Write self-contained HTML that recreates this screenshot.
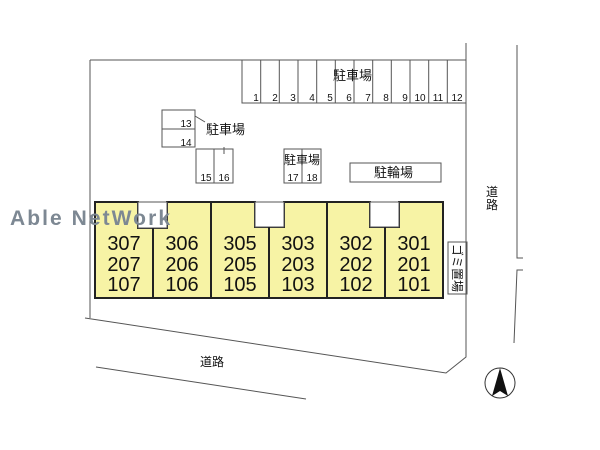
<!DOCTYPE html>
<html><head><meta charset="utf-8"><style>
html,body{margin:0;padding:0;background:#fff;width:600px;height:450px;overflow:hidden}
svg{display:block}
text{font-family:"Liberation Sans","Noto Sans CJK JP",sans-serif;fill:#111}
</style></head><body>
<svg width="600" height="450" viewBox="0 0 600 450" xmlns="http://www.w3.org/2000/svg">
<g fill="none" stroke="#555" stroke-width="1">
<polyline points="466,43 466,357 446,373 85,318"/>
<line x1="90" y1="60" x2="466" y2="60"/>
<line x1="90" y1="60" x2="90" y2="318"/>
<line x1="96" y1="367" x2="306" y2="399"/>
<polyline points="517,45 517,258 523,258"/>
<polyline points="523,270 517,270 514,343"/>
<rect x="242" y="60" width="224" height="43"/>
<line x1="260.7" y1="60" x2="260.7" y2="103"/><line x1="279.3" y1="60" x2="279.3" y2="103"/>
<line x1="298" y1="60" x2="298" y2="103"/><line x1="316.7" y1="60" x2="316.7" y2="103"/>
<line x1="335.3" y1="60" x2="335.3" y2="103"/><line x1="354" y1="60" x2="354" y2="103"/>
<line x1="372.7" y1="60" x2="372.7" y2="103"/><line x1="391.3" y1="60" x2="391.3" y2="103"/>
<line x1="410" y1="60" x2="410" y2="103"/><line x1="428.7" y1="60" x2="428.7" y2="103"/>
<line x1="447.3" y1="60" x2="447.3" y2="103"/>
<rect x="162" y="110" width="33" height="37"/><line x1="162" y1="129" x2="195" y2="129"/>
<line x1="195" y1="116" x2="205" y2="122"/>
<rect x="196" y="149" width="37" height="34"/><line x1="214" y1="149" x2="214" y2="183"/>
<line x1="224" y1="147" x2="224" y2="154"/>
<rect x="284" y="149" width="37" height="34"/><line x1="302" y1="149" x2="302" y2="183"/>
<rect x="350" y="163" width="91" height="19"/>
<rect x="448" y="242" width="19" height="52"/>
</g>
<path d="M95,202 H138 V228 H167 V202 H255 V227 H284 V202 H370 V227 H399 V202 H443 V298 H95 Z" fill="#f7f3a5" stroke="#222" stroke-width="2"/>
<rect x="138" y="202" width="29" height="26" fill="#fff" stroke="#555" stroke-width="1"/>
<rect x="255" y="202" width="29" height="25" fill="#fff" stroke="#555" stroke-width="1"/>
<rect x="370" y="202" width="29" height="25" fill="#fff" stroke="#555" stroke-width="1"/>
<g stroke="#222" stroke-width="2">
<line x1="153" y1="228" x2="153" y2="298"/><line x1="211" y1="202" x2="211" y2="298"/>
<line x1="269" y1="227" x2="269" y2="298"/><line x1="327" y1="202" x2="327" y2="298"/>
<line x1="385" y1="227" x2="385" y2="298"/>
</g>
<g font-size="20" text-anchor="middle">
<text x="124" y="250">307</text><text x="124" y="271">207</text><text x="124" y="291">107</text>
<text x="182" y="250">306</text><text x="182" y="271">206</text><text x="182" y="291">106</text>
<text x="240" y="250">305</text><text x="240" y="271">205</text><text x="240" y="291">105</text>
<text x="298" y="250">303</text><text x="298" y="271">203</text><text x="298" y="291">103</text>
<text x="356" y="250">302</text><text x="356" y="271">202</text><text x="356" y="291">102</text>
<text x="414" y="250">301</text><text x="414" y="271">201</text><text x="414" y="291">101</text>
</g>
<g font-size="10" text-anchor="middle">
<text x="256" y="101">1</text><text x="275" y="101">2</text><text x="293" y="101">3</text><text x="312" y="101">4</text>
<text x="330" y="101">5</text><text x="349" y="101">6</text><text x="368" y="101">7</text><text x="386" y="101">8</text>
<text x="405" y="101">9</text><text x="420" y="101">10</text><text x="438" y="101">11</text><text x="457" y="101">12</text>
<text x="186" y="127">13</text><text x="186" y="146">14</text>
<text x="206" y="181">15</text><text x="224" y="181">16</text>
<text x="293" y="181">17</text><text x="312" y="181">18</text>
</g>
<g font-size="13">
<text x="333" y="80">駐車場</text>
<text x="206" y="134">駐車場</text>
<text x="284" y="164" font-size="12">駐車場</text>
<text x="374" y="177">駐輪場</text>
<text x="200" y="366" font-size="12">道路</text>
<text x="486" y="196" font-size="12">道</text>
<text x="486" y="209" font-size="12">路</text>
</g>
<text transform="translate(453,268) rotate(90)" font-size="12" text-anchor="middle">ゴミ置場</text>
<text x="10" y="225" font-size="21" font-weight="bold" textLength="160" style="fill:#7d8893">Able NetWork</text>
<circle cx="500" cy="383" r="15" fill="#fff" stroke="#333"/>
<path d="M500,368 L508,396 L500,391 L492,396 Z" fill="#111"/>
</svg>
</body></html>
